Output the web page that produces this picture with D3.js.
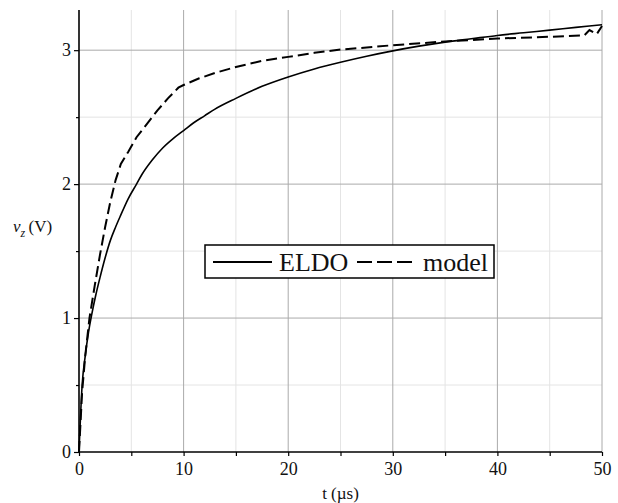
<!DOCTYPE html>
<html>
<head>
<meta charset="utf-8">
<script src="https://cdn.jsdelivr.net/npm/d3@7"></script>
<style>
  body { margin: 0; background: #fff; }
  text { font-family: "Liberation Serif", "Times New Roman", serif; fill: #111; }
</style>
</head>
<body>
<div id="chart"></div>
<script>
// ELDO simulation (solid)
var eldoT = [0, 0.3, 0.6, 0.9, 1.2, 1.6, 2.0, 2.5, 3, 3.5, 4, 4.7, 5.5, 6, 7, 8, 9, 10, 11, 12, 13, 15, 17.5, 20, 22.5, 25, 27.5, 30, 32.5, 35, 37.5, 40, 42.5, 45, 47.5, 50];
var eldoV = [0, 0.5, 0.72, 0.89, 1.02, 1.17, 1.3, 1.45, 1.58, 1.68, 1.77, 1.89, 2.0, 2.07, 2.18, 2.27, 2.34, 2.40, 2.46, 2.51, 2.56, 2.64, 2.73, 2.80, 2.86, 2.91, 2.955, 2.995, 3.03, 3.06, 3.085, 3.11, 3.13, 3.15, 3.17, 3.19];
// model (dashed)
var modelT = [0, 0.3, 0.6, 1.0, 1.5, 2.0, 2.5, 3.0, 3.5, 4.0, 4.7, 5.5, 6.5, 7.5, 8.5, 9.5, 10, 11.5, 13, 15, 17.5, 20, 22.5, 25, 27.5, 30, 35, 40, 45, 48.3, 48.8, 49.5, 50];
var modelV = [0, 0.45, 0.72, 1.0, 1.24, 1.47, 1.68, 1.87, 2.03, 2.15, 2.24, 2.35, 2.45, 2.55, 2.64, 2.72, 2.74, 2.79, 2.83, 2.875, 2.92, 2.95, 2.98, 3.005, 3.02, 3.037, 3.065, 3.087, 3.10, 3.11, 3.15, 3.12, 3.18];

var xTicks = [0, 10, 20, 30, 40, 50];
var xMinor = [5, 15, 25, 35, 45];
var yTicks = [0, 1, 2, 3];
var yMinor = [0.5, 1.5, 2.5];
var seriesNames = ["ELDO", "model"];

var width = 618, height = 503;
var svg = d3.select("#chart").append("svg")
    .attr("width", width)
    .attr("height", height);

var x = d3.scaleLinear().domain([0, 50]).range([79, 602]);
var y = d3.scaleLinear().domain([0, 3.3]).range([452, 10]);

// grid
var grid = svg.append("g");
grid.selectAll(".vminor").data(xMinor).enter().append("line")
    .attr("x1", d => x(d)).attr("x2", d => x(d))
    .attr("y1", y(0)).attr("y2", y(3.3))
    .attr("stroke", "#e4e4e4").attr("stroke-width", 1);
grid.selectAll(".hminor").data(yMinor).enter().append("line")
    .attr("x1", x(0)).attr("x2", x(50))
    .attr("y1", d => y(d)).attr("y2", d => y(d))
    .attr("stroke", "#e4e4e4").attr("stroke-width", 1);
grid.selectAll(".vmajor").data(xTicks.slice(1)).enter().append("line")
    .attr("x1", d => x(d)).attr("x2", d => x(d))
    .attr("y1", y(0)).attr("y2", y(3.3))
    .attr("stroke", "#aaaaaa").attr("stroke-width", 1);
grid.selectAll(".hmajor").data(yTicks.slice(1)).enter().append("line")
    .attr("x1", x(0)).attr("x2", x(50))
    .attr("y1", d => y(d)).attr("y2", d => y(d))
    .attr("stroke", "#aaaaaa").attr("stroke-width", 1);

// curves
var line = d3.line().x(d => x(d[0])).y(d => y(d[1]));
var smooth = d3.line().x(d => x(d[0])).y(d => y(d[1])).curve(d3.curveMonotoneX);
var eldo = d3.zip(eldoT, eldoV);
var model = d3.zip(modelT, modelV);

svg.append("path").datum(model)
    .attr("d", line).attr("fill", "none")
    .attr("stroke", "#000").attr("stroke-width", 2)
    .attr("stroke-dasharray", "11,5");
svg.append("path").datum(eldo)
    .attr("d", smooth).attr("fill", "none")
    .attr("stroke", "#000").attr("stroke-width", 1.6);

// axes
var xAxis = svg.append("g").attr("transform", "translate(0," + y(0) + ")")
    .call(d3.axisBottom(x).tickValues(xTicks.concat(xMinor)).tickSize(4)
        .tickFormat(d => xTicks.indexOf(d) >= 0 ? d : ""));
var yAxis = svg.append("g").attr("transform", "translate(" + x(0) + ",0)")
    .call(d3.axisLeft(y).tickValues(yTicks.concat(yMinor)).tickSize(5)
        .tickFormat(d => yTicks.indexOf(d) >= 0 ? d : ""));

[xAxis, yAxis].forEach(function(a) {
  a.select(".domain").attr("stroke", "#000").attr("stroke-width", 1.6);
  a.selectAll(".tick line").attr("stroke", "#000").attr("stroke-width", 1.2);
  a.selectAll("text").attr("font-family", "Liberation Serif").attr("font-size", 18).attr("fill", "#111");
});
xAxis.select(".domain").attr("d", "M" + x(0) + ",0H" + x(50));
yAxis.select(".domain").attr("d", "M0," + y(0) + "V" + y(3.3));
xAxis.selectAll("text").attr("dy", "0.9em");
yAxis.selectAll(".tick").filter(d => yMinor.indexOf(d) >= 0).select("line").attr("x2", -3);
yAxis.selectAll("text").attr("x", -8);

// axis labels
svg.append("text").attr("x", x(25)).attr("y", 499)
    .attr("text-anchor", "middle").attr("font-size", 17).text("t (µs)");
var yl = svg.append("text").attr("x", 13).attr("y", 232).attr("font-size", 17);
yl.append("tspan").attr("font-style", "italic").text("v");
yl.append("tspan").attr("font-style", "italic").attr("font-size", 12).attr("dy", 5).text("z");
yl.append("tspan").attr("dy", -5).text("\u2009(V)");

// legend
var lg = svg.append("g");
lg.append("rect").attr("x", 205).attr("y", 245).attr("width", 289).attr("height", 33)
    .attr("fill", "#fff").attr("stroke", "#000").attr("stroke-width", 1.5);
lg.append("line").attr("x1", 213).attr("x2", 272).attr("y1", 262).attr("y2", 262)
    .attr("stroke", "#000").attr("stroke-width", 2);
lg.append("text").attr("x", 279).attr("y", 271).attr("font-size", 26).text(seriesNames[0]);
lg.append("line").attr("x1", 357).attr("x2", 413).attr("y1", 262).attr("y2", 262)
    .attr("stroke", "#000").attr("stroke-width", 2).attr("stroke-dasharray", "15,5");
lg.append("text").attr("x", 423).attr("y", 271).attr("font-size", 26).text(seriesNames[1]);
</script>
</body>
</html>
